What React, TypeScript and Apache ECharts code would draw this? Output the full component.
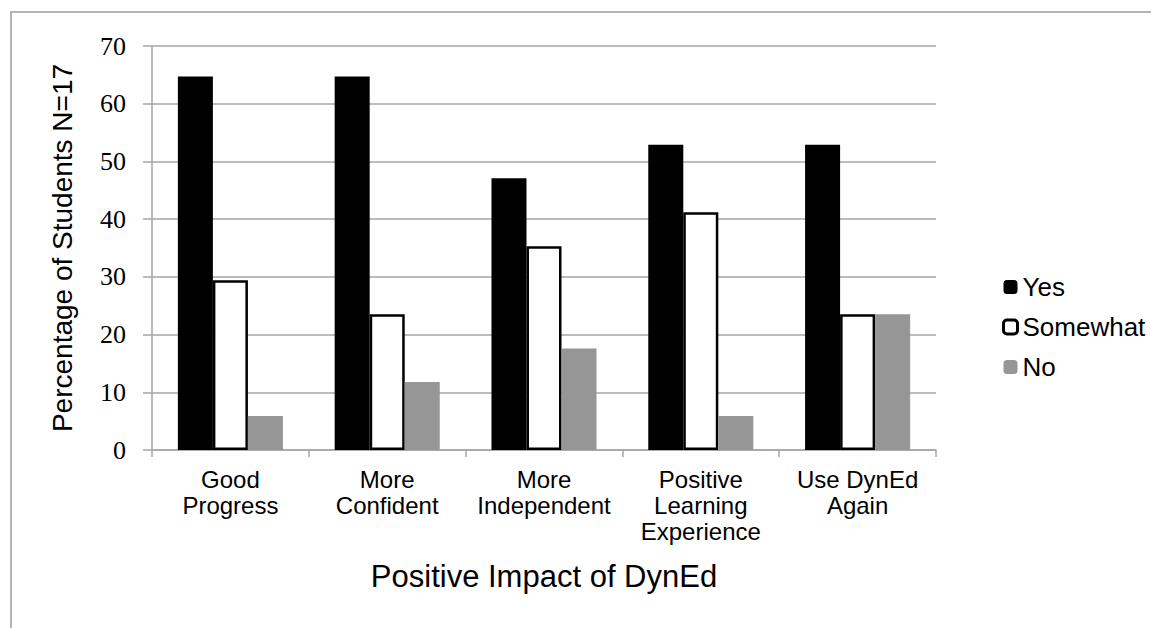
import React, { useEffect, useRef } from "react";
import * as echarts from "echarts";

const categories = [
  "Good\nProgress",
  "More\nConfident",
  "More\nIndependent",
  "Positive\nLearning\nExperience",
  "Use DynEd\nAgain",
];
const yesValues = [64.7, 64.7, 47.1, 52.9, 52.9];
const somewhatValues = [29.4, 23.5, 35.3, 41.2, 23.5];
const noValues = [5.9, 11.8, 17.6, 5.9, 23.5];
const yMin = 0;
const yMax = 70;
const yInterval = 10;

const SANS = "'Liberation Sans', Arial, Helvetica, sans-serif";
const SERIF = "'Liberation Serif', 'Times New Roman', serif";
const GRID_GRAY = "#a6a6a6";

export default function App() {
  const ref = useRef<HTMLDivElement>(null);
  useEffect(() => {
    if (!ref.current) return;
    const chart = echarts.init(ref.current, null, { renderer: "svg" });
    chart.setOption({
      animation: false,
      backgroundColor: "#ffffff",
      graphic: [
        {
          type: "rect",
          shape: { x: 11, y: 12, width: 1180, height: 660 },
          style: { fill: "none", stroke: "#b4b4b4", lineWidth: 2 },
          silent: true,
        },
      ],
      grid: { left: 152, right: 215, top: 46, bottom: 178, containLabel: false },
      legend: {
        orient: "vertical",
        left: 1002,
        top: 274,
        padding: 0,
        itemWidth: 14,
        itemHeight: 14,
        itemGap: 14,
        textStyle: { fontFamily: SANS, fontSize: 26, color: "#000" },
        data: [
          { name: "Yes" },
          { name: "Somewhat", itemStyle: { color: "#fff", borderColor: "#000", borderWidth: 3 } },
          { name: "No" },
        ],
      },
      xAxis: {
        type: "category",
        data: categories,
        name: "Positive Impact of DynEd",
        nameLocation: "middle",
        nameGap: 111,
        nameTextStyle: { fontFamily: SANS, fontSize: 31, color: "#000" },
        axisLine: { show: true, lineStyle: { color: GRID_GRAY, width: 1.5 } },
        axisTick: { show: true, length: 7, inside: false, lineStyle: { color: GRID_GRAY, width: 1.5 } },
        axisLabel: {
          fontFamily: SANS,
          fontSize: 24,
          lineHeight: 26,
          color: "#000",
          margin: 16,
          interval: 0,
        },
      },
      yAxis: {
        type: "value",
        min: yMin,
        max: yMax,
        interval: yInterval,
        name: "Percentage of Students N=17",
        nameLocation: "middle",
        nameGap: 76,
        nameTextStyle: { fontFamily: SANS, fontSize: 28, color: "#000" },
        axisLine: { show: true, lineStyle: { color: GRID_GRAY, width: 1.5 } },
        axisTick: { show: true, length: 9, lineStyle: { color: GRID_GRAY, width: 1.5 } },
        splitLine: { show: true, lineStyle: { color: GRID_GRAY, width: 1.5 } },
        axisLabel: { fontFamily: SERIF, fontSize: 26, color: "#000", margin: 26 },
      },
      series: [
        {
          name: "Yes",
          type: "bar",
          data: yesValues,
          barGap: "0%",
          barCategoryGap: "33%",
          itemStyle: { color: "#000000" },
        },
        {
          name: "Somewhat",
          type: "bar",
          data: somewhatValues,
          itemStyle: { color: "#ffffff", borderColor: "#000000", borderWidth: 2.5 },
        },
        {
          name: "No",
          type: "bar",
          data: noValues,
          itemStyle: { color: "#969696" },
        },
      ],
    });
    return () => chart.dispose();
  }, []);
  return (
    <div
      ref={ref}
      style={{ position: "fixed", left: 0, top: 0, width: 1151, height: 628, background: "#fff" }}
    />
  );
}
